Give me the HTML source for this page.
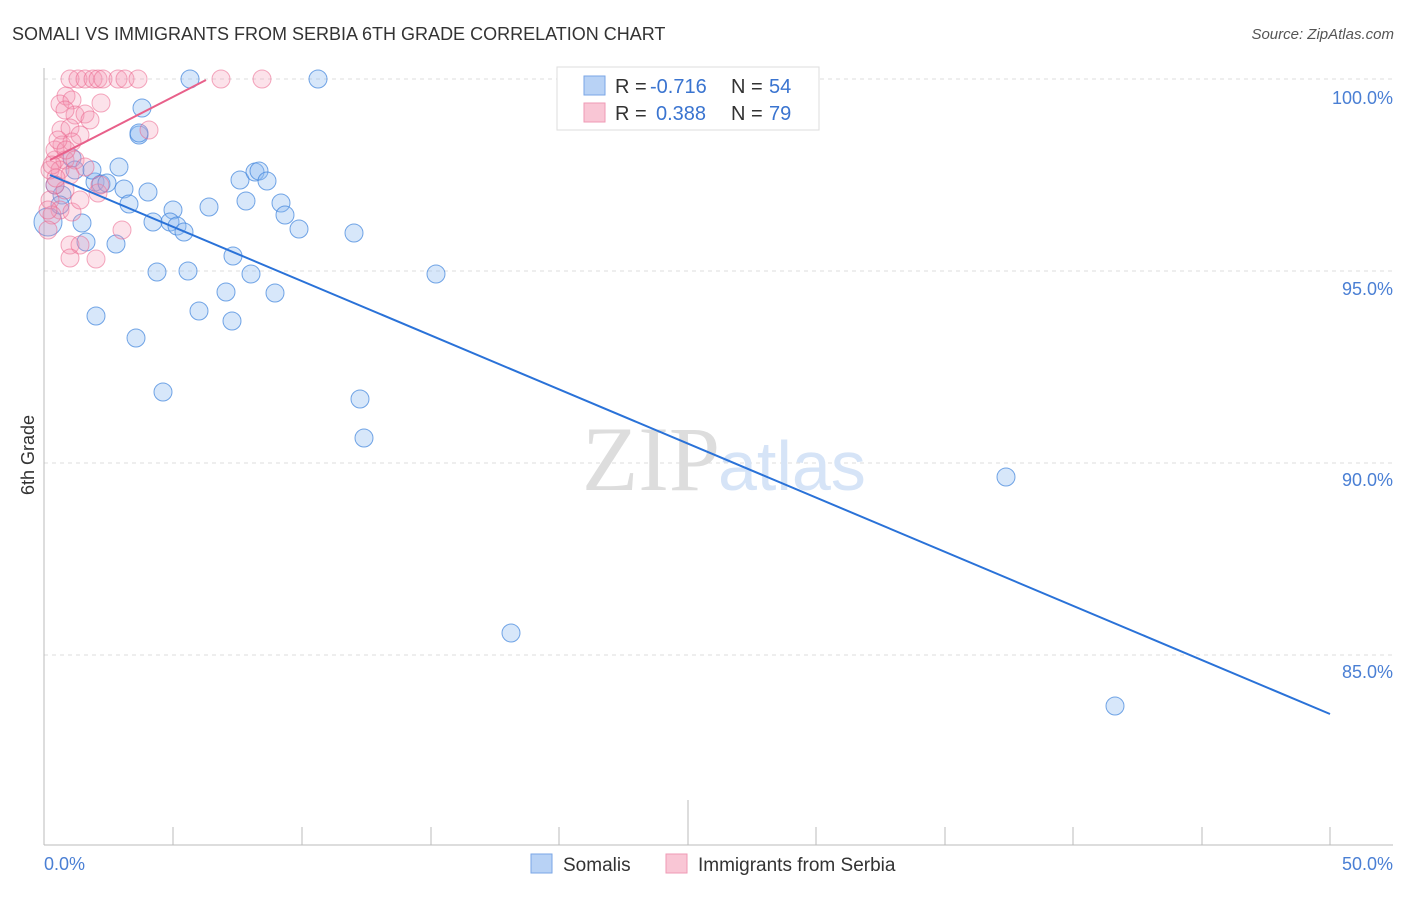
<!DOCTYPE html><html><head><style>body{margin:0;background:#fff;font-family:"Liberation Sans",sans-serif}</style></head><body>
<svg width="1406" height="892" xmlns="http://www.w3.org/2000/svg" font-family="Liberation Sans, sans-serif">
<text x="12" y="40" font-size="18" fill="#333">SOMALI VS IMMIGRANTS FROM SERBIA 6TH GRADE CORRELATION CHART</text>
<text x="1394" y="39" font-size="15" fill="#555" font-style="italic" text-anchor="end">Source: ZipAtlas.com</text>
<g stroke="#ddd" stroke-dasharray="4,4" stroke-width="1"><line x1="44" y1="79" x2="1393" y2="79"/><line x1="44" y1="271" x2="1393" y2="271"/><line x1="44" y1="463" x2="1393" y2="463"/><line x1="44" y1="655" x2="1393" y2="655"/></g>
<line x1="44" y1="68" x2="44" y2="845" stroke="#bbb"/>
<line x1="44" y1="845" x2="1393" y2="845" stroke="#bbb"/>
<g stroke="#bbb"><line x1="173" y1="827" x2="173" y2="845"/><line x1="302" y1="827" x2="302" y2="845"/><line x1="431" y1="827" x2="431" y2="845"/><line x1="559" y1="827" x2="559" y2="845"/><line x1="688" y1="800" x2="688" y2="845"/><line x1="816" y1="827" x2="816" y2="845"/><line x1="945" y1="827" x2="945" y2="845"/><line x1="1073" y1="827" x2="1073" y2="845"/><line x1="1202" y1="827" x2="1202" y2="845"/><line x1="1330" y1="827" x2="1330" y2="845"/></g>
<g font-size="18" fill="#4a7fd4" text-anchor="end"><text x="1393" y="104">100.0%</text><text x="1393" y="295">95.0%</text><text x="1393" y="486">90.0%</text><text x="1393" y="678">85.0%</text><text x="1393" y="870">50.0%</text></g>
<text x="44" y="870" font-size="18" fill="#4a7fd4">0.0%</text>
<text x="34" y="455" font-size="18" fill="#333" transform="rotate(-90 34 455)" text-anchor="middle">6th Grade</text>
<text x="720" y="490" font-size="92" fill="#ddd" text-anchor="end" font-family="Liberation Serif, serif">ZIP</text>
<text x="718" y="490" font-size="70" fill="#d6e4f7">atlas</text>
<g fill="rgba(140,185,240,0.35)" stroke="rgba(60,130,220,0.7)" stroke-width="1">
<circle cx="190" cy="79" r="9"/><circle cx="318" cy="79" r="9"/><circle cx="142" cy="108" r="9"/><circle cx="139" cy="135" r="9"/><circle cx="119" cy="167" r="9"/><circle cx="72" cy="158" r="9"/><circle cx="95" cy="182" r="9"/><circle cx="101" cy="184" r="9"/><circle cx="107" cy="183" r="9"/><circle cx="124" cy="189" r="9"/><circle cx="148" cy="192" r="9"/><circle cx="129" cy="204" r="9"/><circle cx="173" cy="210" r="9"/><circle cx="153" cy="222" r="9"/><circle cx="170" cy="222" r="9"/><circle cx="177" cy="226" r="9"/><circle cx="184" cy="232" r="9"/><circle cx="82" cy="223" r="9"/><circle cx="209" cy="207" r="9"/><circle cx="240" cy="180" r="9"/><circle cx="246" cy="201" r="9"/><circle cx="255" cy="172" r="9"/><circle cx="259" cy="171" r="9"/><circle cx="267" cy="181" r="9"/><circle cx="281" cy="203" r="9"/><circle cx="285" cy="215" r="9"/><circle cx="299" cy="229" r="9"/><circle cx="354" cy="233" r="9"/><circle cx="233" cy="256" r="9"/><circle cx="157" cy="272" r="9"/><circle cx="188" cy="271" r="9"/><circle cx="251" cy="274" r="9"/><circle cx="226" cy="292" r="9"/><circle cx="275" cy="293" r="9"/><circle cx="436" cy="274" r="9"/><circle cx="96" cy="316" r="9"/><circle cx="199" cy="311" r="9"/><circle cx="232" cy="321" r="9"/><circle cx="136" cy="338" r="9"/><circle cx="163" cy="392" r="9"/><circle cx="360" cy="399" r="9"/><circle cx="364" cy="438" r="9"/><circle cx="1006" cy="477" r="9"/><circle cx="511" cy="633" r="9"/><circle cx="1115" cy="706" r="9"/><circle cx="86" cy="242" r="9"/><circle cx="116" cy="244" r="9"/><circle cx="62" cy="195" r="9"/><circle cx="55" cy="185" r="9"/><circle cx="48" cy="222" r="14"/><circle cx="60" cy="205" r="9"/><circle cx="75" cy="170" r="9"/><circle cx="92" cy="170" r="9"/><circle cx="139" cy="133" r="9"/>
</g>
<g fill="rgba(245,150,180,0.28)" stroke="rgba(235,100,140,0.55)" stroke-width="1">
<circle cx="70" cy="79" r="9"/><circle cx="78" cy="79" r="9"/><circle cx="85" cy="79" r="9"/><circle cx="93" cy="79" r="9"/><circle cx="98" cy="79" r="9"/><circle cx="103" cy="79" r="9"/><circle cx="118" cy="79" r="9"/><circle cx="125" cy="79" r="9"/><circle cx="138" cy="79" r="9"/><circle cx="221" cy="79" r="9"/><circle cx="262" cy="79" r="9"/><circle cx="66" cy="96" r="9"/><circle cx="60" cy="104" r="9"/><circle cx="72" cy="100" r="9"/><circle cx="101" cy="103" r="9"/><circle cx="75" cy="115" r="9"/><circle cx="85" cy="114" r="9"/><circle cx="61" cy="130" r="9"/><circle cx="70" cy="128" r="9"/><circle cx="80" cy="135" r="9"/><circle cx="62" cy="145" r="9"/><circle cx="72" cy="142" r="9"/><circle cx="55" cy="160" r="9"/><circle cx="65" cy="160" r="9"/><circle cx="75" cy="160" r="9"/><circle cx="85" cy="167" r="9"/><circle cx="50" cy="170" r="9"/><circle cx="60" cy="170" r="9"/><circle cx="70" cy="175" r="9"/><circle cx="55" cy="185" r="9"/><circle cx="65" cy="190" r="9"/><circle cx="98" cy="193" r="9"/><circle cx="50" cy="200" r="9"/><circle cx="60" cy="210" r="9"/><circle cx="72" cy="212" r="9"/><circle cx="52" cy="215" r="9"/><circle cx="100" cy="185" r="9"/><circle cx="149" cy="130" r="9"/><circle cx="122" cy="230" r="9"/><circle cx="70" cy="245" r="9"/><circle cx="80" cy="245" r="9"/><circle cx="70" cy="258" r="9"/><circle cx="96" cy="259" r="9"/><circle cx="48" cy="230" r="9"/><circle cx="48" cy="210" r="9"/><circle cx="80" cy="200" r="9"/><circle cx="55" cy="150" r="9"/><circle cx="90" cy="120" r="9"/><circle cx="65" cy="110" r="9"/><circle cx="52" cy="165" r="9"/><circle cx="58" cy="140" r="9"/><circle cx="66" cy="150" r="9"/><circle cx="56" cy="178" r="9"/>
</g>
<line x1="50" y1="175" x2="1330" y2="714" stroke="#2a72d8" stroke-width="2"/>
<line x1="50" y1="160" x2="206" y2="80" stroke="#e8608a" stroke-width="2"/>
<rect x="557" y="67" width="262" height="63" fill="#fff" stroke="#ddd"/>
<rect x="584" y="76" width="21" height="19" fill="#b8d2f5" stroke="#7aa6e6"/>
<rect x="584" y="103" width="21" height="19" fill="#f9c6d5" stroke="#ef9ab5"/>
<g font-size="20"><text x="615" y="93" fill="#333">R = </text><text x="650" y="93" fill="#3a74d0">-0.716</text><text x="731" y="93" fill="#333">N = </text><text x="769" y="93" fill="#3a74d0">54</text>
<text x="615" y="120" fill="#333">R = </text><text x="656" y="120" fill="#3a74d0">0.388</text><text x="731" y="120" fill="#333">N = </text><text x="769" y="120" fill="#3a74d0">79</text></g>
<rect x="531" y="854" width="21" height="19" fill="#b8d2f5" stroke="#7aa6e6"/><text x="563" y="871" font-size="19" fill="#333">Somalis</text>
<rect x="666" y="854" width="21" height="19" fill="#f9c6d5" stroke="#ef9ab5"/><text x="698" y="871" font-size="19" fill="#333">Immigrants from Serbia</text>
</svg></body></html>
